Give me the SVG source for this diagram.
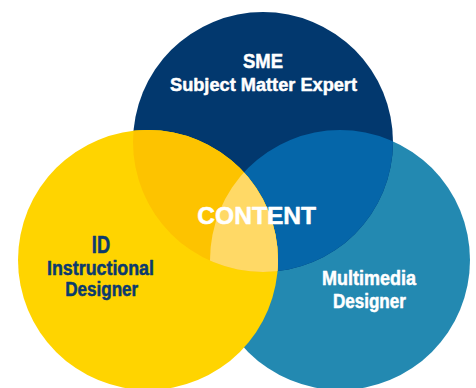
<svg xmlns="http://www.w3.org/2000/svg" width="476" height="388" viewBox="0 0 476 388">
<style>
text{font-family:"Liberation Sans",Arial,sans-serif;font-weight:bold;text-anchor:middle;stroke-width:0.5;stroke-linejoin:round}
.w{fill:#FFFFFF;stroke:#FFFFFF}
.d{fill:#0B3A6E;stroke:#0B3A6E}
</style>
<defs>
<clipPath id="cSME"><circle cx="263" cy="142" r="130"/></clipPath>
<clipPath id="cMM"><circle cx="340" cy="260" r="130"/></clipPath>
</defs>
<rect width="476" height="388" fill="#FFFFFF"/>
<g id="multimedia">
<circle cx="340" cy="260" r="130" fill="#2389B1"/>
</g>
<g id="sme">
<circle cx="263" cy="142" r="130" fill="#02386E"/>
<circle cx="340" cy="260" r="130" fill="#0566A9" clip-path="url(#cSME)"/>
</g>
<g id="id">
<circle cx="148" cy="260" r="130" fill="#FFD400"/>
<circle cx="148" cy="260" r="130" fill="#FDC300" clip-path="url(#cSME)"/>
<g clip-path="url(#cSME)"><circle cx="148" cy="260" r="130" fill="#FFD966" clip-path="url(#cMM)"/></g>
</g>
<g id="labels">
<text class="w" x="263" y="68.3" font-size="20" textLength="40" lengthAdjust="spacingAndGlyphs">SME</text>
<text class="w" x="263.5" y="91" font-size="19" textLength="187" lengthAdjust="spacingAndGlyphs">Subject Matter Expert</text>
<text class="w" x="256.7" y="224" font-size="24" textLength="118.7" lengthAdjust="spacingAndGlyphs">CONTENT</text>
<text class="d" x="101" y="253.3" font-size="23" textLength="18.3" lengthAdjust="spacingAndGlyphs">ID</text>
<text class="d" x="100.5" y="275" font-size="20" textLength="107" lengthAdjust="spacingAndGlyphs">Instructional</text>
<text class="d" x="101.7" y="296" font-size="20" textLength="73" lengthAdjust="spacingAndGlyphs">Designer</text>
<text class="w" x="369" y="285" font-size="19.5" textLength="94" lengthAdjust="spacingAndGlyphs">Multimedia</text>
<text class="w" x="369.4" y="307.7" font-size="19.5" textLength="73" lengthAdjust="spacingAndGlyphs">Designer</text>
</g>
</svg>
